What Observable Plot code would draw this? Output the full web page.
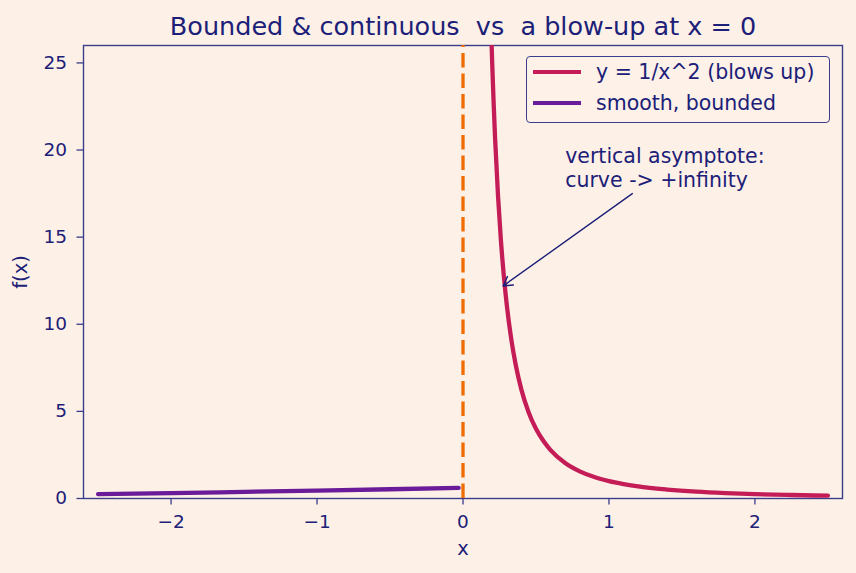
<!DOCTYPE html>
<html>
<head>
<meta charset="utf-8">
<script src="https://cdn.jsdelivr.net/npm/d3@7"></script>
<script src="https://cdn.jsdelivr.net/npm/@observablehq/plot@0.6"></script>
<style>
  html, body { margin: 0; padding: 0; background: #fdf1e7; }
  #wrap { position: relative; width: 856px; height: 573px; font-family: "DejaVu Sans", sans-serif; }
  #legend { position: absolute; left: 526px; top: 56px; width: 302px; height: 65px;
    border: 1.4px solid #3a3c8c; border-radius: 4px; background: rgba(253,241,231,0.85);
    color: #1c2078; font-size: 20.5px; }
  .entry { position: absolute; left: 0; height: 24px; width: 100%; }
  .swatch { position: absolute; left: 6px; top: 9.8px; width: 48px; height: 4.4px; }
  .lab { position: absolute; left: 69px; top: 0px; white-space: nowrap; line-height: 24px; }
</style>
</head>
<body>
<div id="wrap"></div>
<script>
// ---- data ----
const titleText = "Bounded & continuous  vs  a blow-up at x = 0";
const seriesNames = ["y = 1/x^2 (blows up)", "smooth, bounded"];
const seriesColors = ["#c41c57", "#6a1b9a"];
const blowX = [0.19, 0.2, 0.21, 0.22, 0.24, 0.26, 0.28, 0.3, 0.33, 0.36, 0.4, 0.45, 0.5, 0.55, 0.6, 0.7, 0.8, 0.9, 1.0, 1.1, 1.2, 1.4, 1.6, 1.8, 2.0, 2.25, 2.5];
const blowY = [27.7, 25.0, 22.68, 20.66, 17.36, 14.79, 12.76, 11.11, 9.18, 7.72, 6.25, 4.94, 4.0, 3.31, 2.78, 2.04, 1.56, 1.23, 1.0, 0.83, 0.69, 0.51, 0.39, 0.31, 0.25, 0.2, 0.16];
const smoothX = [-2.5, -2.0, -1.5, -1.0, -0.5, -0.03];
const smoothY = [0.25, 0.31, 0.38, 0.45, 0.53, 0.61];
const asymptoteX = [0];
const xTicks = [-2, -1, 0, 1, 2];
const yTicks = [0, 5, 10, 15, 20, 25];
const annText = "vertical asymptote:\ncurve -> +infinity";
const annTextPos = {x: 0.7, y: 17.9};
const annArrow = {x1: 1.16, y1: 17.5, x2: 0.275, y2: 12.2};

const navy = "#1c2078";
const spine = "#3a3c8c";

const blow = blowX.map((x, i) => ({x, y: blowY[i]}));
const smooth = smoothX.map((x, i) => ({x, y: smoothY[i]}));

const chart = Plot.plot({
  width: 856,
  height: 573,
  marginLeft: 83,
  marginRight: 14,
  marginTop: 45,
  marginBottom: 75,
  style: {background: "#fdf1e7", color: navy, fontFamily: "DejaVu Sans, sans-serif", fontSize: "18.5px"},
  x: {domain: [-2.6, 2.6]},
  y: {domain: [0, 26]},
  marks: [
    Plot.frame({stroke: spine, strokeWidth: 1.4}),
    Plot.axisX({ticks: xTicks, tickSize: 6.5, tickPadding: 10, stroke: spine, strokeWidth: 1.3, tickFormat: d => d < 0 ? "\u2212" + Math.abs(d) : String(d),
      fill: navy, label: null}),
    Plot.axisX({ticks: [], label: "x", labelAnchor: "center", labelArrow: "none", labelOffset: 56, fill: navy, fontSize: 19.5}),
    Plot.axisY({ticks: yTicks, tickSize: 6.5, tickPadding: 10, stroke: spine, strokeWidth: 1.3, fill: navy, label: null}),
    Plot.axisY({ticks: [], label: "f(x)", labelAnchor: "center", labelArrow: "none", labelOffset: 70, fill: navy, fontSize: 19.5}),
    Plot.ruleX(asymptoteX, {y1: 0, y2: 26, stroke: "#ef6c00", strokeWidth: 3.3, strokeDasharray: "14.5,6"}),
    Plot.line(smooth, {x: "x", y: "y", stroke: seriesColors[1], strokeWidth: 4.3, curve: "monotone-x", clip: "frame"}),
    Plot.line(blow, {x: "x", y: "y", stroke: seriesColors[0], strokeWidth: 4.3, curve: "monotone-x", clip: "frame"}),
    Plot.arrow([annArrow], {x1: "x1", y1: "y1", x2: "x2", y2: "y2", stroke: navy, strokeWidth: 1.4, headLength: 11, bend: 0}),
    Plot.text([annText], {x: annTextPos.x, y: annTextPos.y, text: d => d, textAnchor: "start", lineAnchor: "bottom", lineHeight: 1.13, fill: navy, fontSize: 20.5}),
    Plot.text([titleText], {frameAnchor: "top", dy: -19, text: d => d, fill: navy, fontSize: 25.5, lineAnchor: "middle"})
  ]
});

const wrap = document.getElementById("wrap");
wrap.appendChild(chart);

const legend = document.createElement("div");
legend.id = "legend";
seriesNames.forEach((name, i) => {
  const e = document.createElement("div");
  e.className = "entry";
  e.style.top = (3 + i * 31) + "px";
  const sw = document.createElement("div");
  sw.className = "swatch";
  sw.style.background = seriesColors[i];
  const lb = document.createElement("div");
  lb.className = "lab";
  lb.textContent = name;
  e.appendChild(sw); e.appendChild(lb);
  legend.appendChild(e);
});
wrap.appendChild(legend);
</script>
</body>
</html>
